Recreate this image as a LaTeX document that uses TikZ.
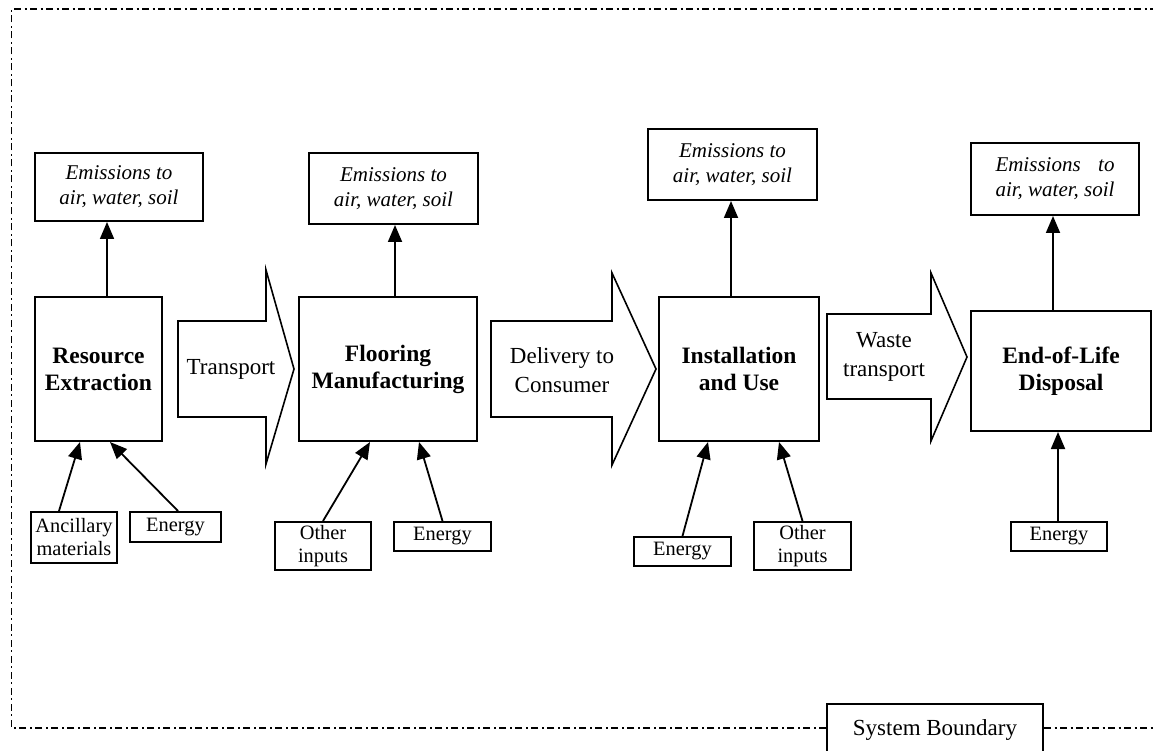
\documentclass[tikz,border=0pt]{standalone}
\usepackage{fontspec}
\setmainfont{Liberation Serif}
\usetikzlibrary{arrows.meta}
\newlength\soilwd
\begin{document}
\begin{tikzpicture}[x=1pt,y=-1pt,
  box/.style={draw,line width=2pt,inner sep=0pt,align=center},
  proc/.style={box,font=\bfseries\fontsize{23.5}{27}\selectfont},
  emis/.style={box,font=\itshape\fontsize{21}{25}\selectfont},
  inp/.style={box,font=\fontsize{20.4}{23}\selectfont},
  lbl/.style={align=center,inner sep=0pt,font=\fontsize{23}{29}\selectfont},
  flow/.style={line width=1.8pt,-{Triangle[length=17pt,width=14pt]}},
  blockarrow/.style={draw,line width=1.6pt,line join=miter},
  boundary/.style={line width=1.8pt,dash pattern=on 7pt off 3.5pt on 2pt off 3.5pt}]
\useasboundingbox (0,0) rectangle (1153,751);

% life-cycle stages
\node[proc,minimum width=127pt,minimum height=144pt] (re)  at (98.5,369) {Resource\\Extraction};
\node[proc,minimum width=178pt,minimum height=144pt] (fm)  at (388,369)  {Flooring\\Manufacturing};
\node[proc,minimum width=160pt,minimum height=144pt] (iu)  at (739,369)  {Installation\\and Use};
\node[proc,minimum width=180pt,minimum height=120pt] (eol) at (1061,371) {End-of-Life\\Disposal};

% emissions
\node[emis,minimum width=168pt,minimum height=68pt] (em1) at (119,187)    {Emissions to\\air, water, soil};
\node[emis,minimum width=169pt,minimum height=71pt] (em2) at (393.5,188.5) {Emissions to\\air, water, soil};
\node[emis,minimum width=169pt,minimum height=71pt] (em3) at (732.5,164.5) {Emissions to\\air, water, soil};
\node[emis,minimum width=168pt,minimum height=72pt] (em4) at (1055,179)
  {\settowidth{\soilwd}{air, water, soil}\makebox[\soilwd][s]{Emissions\hfill to}\\air, water, soil};

% inputs
\node[inp,minimum width=86pt,minimum height=51pt] (anc) at (74,537.5)    {Ancillary\\materials};
\node[inp,minimum width=91pt,minimum height=30pt] (en1) at (175.5,527)   {Energy};
\node[inp,minimum width=96pt,minimum height=48pt] (oi2) at (323,546)     {Other\\inputs};
\node[inp,minimum width=97pt,minimum height=29pt] (en2) at (442.5,536.5) {Energy};
\node[inp,minimum width=97pt,minimum height=29pt] (en3) at (682.5,551.5) {Energy};
\node[inp,minimum width=97pt,minimum height=48pt] (oi3) at (802.5,546)   {Other\\inputs};
\node[inp,minimum width=96pt,minimum height=29pt] (en4) at (1059,536.5)  {Energy};

% block arrows between stages
\draw[blockarrow] (178,321) -- (266,321) -- (266,270) -- (294,369) -- (266,464) -- (266,417) -- (178,417) -- cycle;
\node[lbl] (tr) at (231,369) {Transport};
\draw[blockarrow] (491,321) -- (612,321) -- (612,273) -- (656,369) -- (612,465) -- (612,417) -- (491,417) -- cycle;
\node[lbl] (dc) at (562,370) {Delivery to\\Consumer};
\draw[blockarrow] (827,314) -- (931,314) -- (931,273) -- (967,357) -- (931,441) -- (931,399) -- (827,399) -- cycle;
\node[lbl] (wt) at (884,357) {Waste\\transport};

% emission flows
\draw[flow] ([xshift=8.5pt]re.north) -- ([xshift=-12pt]em1.south);
\draw[flow] ([xshift=7pt]fm.north)   -- ([xshift=1.5pt]em2.south);
\draw[flow] ([xshift=-8pt]iu.north)  -- ([xshift=-1.5pt]em3.south);
\draw[flow] ([xshift=-8pt]eol.north) -- ([xshift=-2pt]em4.south);

% input flows
\draw[flow] ([xshift=-15pt]anc.north) -- ([xshift=-18.5pt]re.south);
\draw[flow] ([xshift=2.5pt]en1.north) -- ([xshift=11.5pt]re.south);
\draw[flow] (oi2.north) -- ([xshift=-18pt]fm.south);
\draw[flow] (en2.north) -- ([xshift=31pt]fm.south);
\draw[flow] (en3.north) -- ([xshift=-31pt]iu.south);
\draw[flow] (oi3.north) -- ([xshift=40pt]iu.south);
\draw[flow] ([xshift=-1pt]en4.north) -- ([xshift=-3pt]eol.south);

% system boundary
\node[box,lbl,draw,line width=2pt,minimum width=216pt,minimum height=52pt] (sb) at (935,730) {System Boundary};
\coordinate (bl) at (0,728);
\draw[boundary] (sb.west |- bl) -- (11.5,728) -- (11.5,9) -- (1153,9);
\draw[boundary] (sb.east |- bl) -- (1153,728);
\end{tikzpicture}
\end{document}
